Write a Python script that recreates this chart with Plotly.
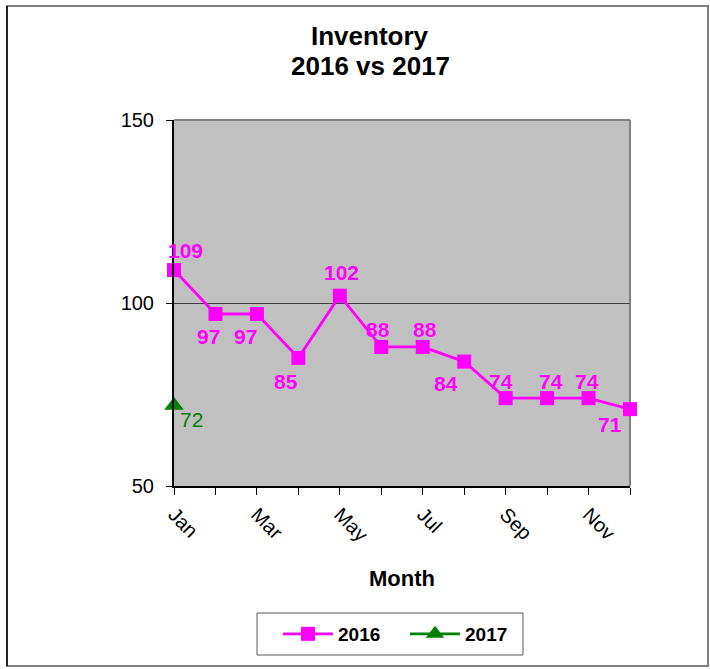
import plotly.graph_objects as go

# ---- data ----
months = ["Jan", "Feb", "Mar", "Apr", "May", "Jun", "Jul", "Aug", "Sep", "Oct", "Nov", "Dec"]
tick_text = ["Jan", "", "Mar", "", "May", "", "Jul", "", "Sep", "", "Nov", ""]
inv_2016 = [109, 97, 97, 85, 102, 88, 88, 84, 74, 74, 74, 71]
months_2017 = ["Jan"]
inv_2017 = [72]
y_ticks = [50, 100, 150]
title_lines = ["Inventory", "2016 vs 2017"]

# ---- styles ----
FONT = "Arial, Liberation Sans, sans-serif"
MAG = "#FF00FF"
GRN = "#008000"
# label offsets (px) for the 2016 data labels
lab_dx = [11, -7, -11, -12, 2, -3, 2, -18, -5, 4, -2, -20]
lab_dy = [-20, 23, 23, 24, -23, -17, -17, 22, -17, -17, -17, 15]
title_y_px = [36, 66]

W, H = 710, 669
L, R, T, B = 174, 80, 120, 183
PW, PH = W - L - R, H - T - B


def px(x):
    return (x - L) / PW


def py(y):
    return (H - B - y) / PH


fig = go.Figure()
fig.add_trace(go.Scatter(
    x=months, y=inv_2016, name="2016", mode="lines+markers",
    line=dict(color=MAG, width=2.8),
    marker=dict(symbol="square", size=14, color=MAG),
    cliponaxis=False,
))
fig.add_trace(go.Scatter(
    x=months_2017, y=inv_2017, name="2017", mode="lines+markers",
    line=dict(color=GRN, width=2.8),
    marker=dict(symbol="triangle-up", size=17, color=GRN),
    cliponaxis=False,
))

annotations = []
for m, v, dx, dy in zip(months, inv_2016, lab_dx, lab_dy):
    annotations.append(dict(
        x=m, y=v, xref="x", yref="y", text=str(v), showarrow=False,
        xshift=dx, yshift=-dy, xanchor="center", yanchor="middle",
        font=dict(family=FONT, size=21, color=MAG, weight="bold"),
    ))
for m, v in zip(months_2017, inv_2017):
    annotations.append(dict(
        x=m, y=v, xref="x", yref="y", text=str(v), showarrow=False,
        xshift=17, yshift=-14, xanchor="center", yanchor="middle",
        font=dict(family=FONT, size=21, color=GRN),
    ))
for line, ty in zip(title_lines, title_y_px):
    annotations.append(dict(
        x=px(370), y=py(ty), xref="paper", yref="paper", text="<b>%s</b>" % line,
        showarrow=False, xanchor="center", yanchor="middle",
        font=dict(family=FONT, size=26, color="black"),
    ))
annotations.append(dict(
    x=0.5, y=0, xref="paper", yref="paper", text="<b>Month</b>", showarrow=False,
    yshift=-(578 - (H - B)), xanchor="center", yanchor="middle",
    font=dict(family=FONT, size=22, color="black"),
))

shapes = [
    # outer chart border
    dict(type="rect", xref="paper", yref="paper",
         x0=px(7), x1=px(708), y0=py(666), y1=py(6),
         line=dict(color="#808080", width=2), layer="above"),
    dict(type="line", xref="paper", yref="paper",
         x0=px(7), x1=px(7), y0=py(666), y1=py(6),
         line=dict(color="#202020", width=2), layer="above"),
    # plot-area top and right border
    dict(type="line", xref="paper", yref="paper", x0=0, x1=1, y0=1, y1=1,
         line=dict(color="#808080", width=2), layer="below"),
    dict(type="line", xref="paper", yref="paper", x0=1, x1=1, y0=0, y1=1,
         line=dict(color="#808080", width=2), layer="below"),
    # legend box
    dict(type="rect", xref="paper", yref="paper",
         x0=px(257), x1=px(523), y0=py(655), y1=py(613),
         line=dict(color="#595959", width=1), fillcolor="rgba(0,0,0,0)", layer="above"),
]

fig.update_layout(
    width=W, height=H,
    margin=dict(l=L, r=R, t=T, b=B),
    paper_bgcolor="white", plot_bgcolor="#C0C0C0",
    font=dict(family=FONT, color="black"),
    showlegend=True,
    legend=dict(orientation="h", x=px(278), xanchor="left", y=py(634), yanchor="middle",
                bgcolor="rgba(0,0,0,0)", borderwidth=0, entrywidth=62, itemwidth=50,
                font=dict(family=FONT, size=19, color="black", weight="bold")),
    xaxis=dict(type="category", categoryorder="array", categoryarray=months,
               range=[0, len(months) - 1], tickmode="array", tickvals=months, ticktext=tick_text,
               tickangle=45, ticks="outside", ticklen=7, tickcolor="black",
               showline=True, linecolor="black", linewidth=2, showgrid=False, zeroline=False,
               tickfont=dict(family=FONT, size=20, color="black")),
    yaxis=dict(range=[50, 150], tickmode="array", tickvals=y_ticks,
               ticks="outside", ticklen=6, tickcolor="black",
               showline=True, linecolor="black", linewidth=2,
               showgrid=True, gridcolor="#404040", gridwidth=1, zeroline=False,
               ticklabelstandoff=8,
               tickfont=dict(family=FONT, size=20, color="black")),
    annotations=annotations,
    shapes=shapes,
)

fig.write_html("out.html", config={"displayModeBar": False},
               post_script="document.body.style.margin='0';")
